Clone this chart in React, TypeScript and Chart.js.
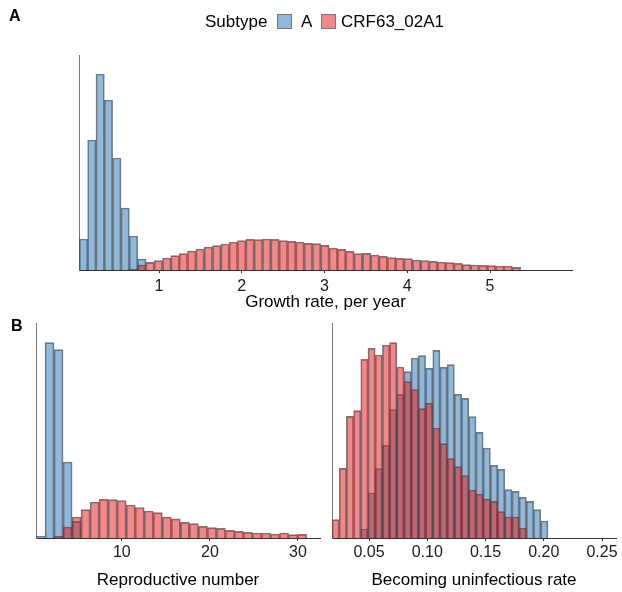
import React, { useEffect, useRef } from "react";
import { Chart, registerables } from "chart.js";

Chart.register(...registerables);

const FONT = "'Liberation Sans', Arial, Helvetica, sans-serif";
Chart.defaults.font.family = FONT;

// ---- legend / series ----
const SERIES_NAMES = ["A", "CRF63_02A1"];
const LEGEND_TITLE = "Subtype";
const BLUE_FILL = "rgba(55,126,184,0.55)";
const RED_FILL = "rgba(228,26,28,0.52)";
const BAR_BORDER = "rgba(70,70,70,0.72)";

// ---- Panel A: growth rate, per year (53 bins) ----
const A_BIN_START = 0.037;
const A_BIN_WIDTH = 0.1006;
const A_SUBTYPE_A = [31, 130, 196, 170, 112, 62, 34, 11];
const A_SUBTYPE_CRF = [
  null, null, null, null, null, null, 1,
  5, 7.7, 9.3, 12, 14.3, 16.3, 19, 21, 23, 24.3,
  26, 28, 29.3, 30.7, 30.3, 31, 30.7, 29.3, 28.7, 28,
  26.7, 26.3, 24.7, 22, 20.7, 18.7, 16.3, 16.7, 15, 13.7,
  12.3, 11.7, 11.3, 10, 9.3, 8.7, 8, 7.3, 6.7, 5.3,
  5, 4.7, 4.3, 4, 4, 2.7,
];
const A_TICKS = [1, 2, 3, 4, 5];
const A_TITLE = "Growth rate, per year";

// ---- Panel B left: reproductive number (30 bins) ----
const BL_BIN_START = 0.26;
const BL_BIN_WIDTH = 1.024;
const BL_SUBTYPE_A = [2, 195.3, 188.3, 76, 16.7];
const BL_SUBTYPE_CRF = [
  null, null, 1.7, 11, 21, 28.3, 36, 38.7, 38.3, 37.5,
  33, 30.5, 27, 25.3, 21, 19.2, 15.7, 14.3, 11.7, 10.3,
  9.7, 7.7, 6.7, 5.7, 5, 5, 4, 5, 3.3, 3.7,
];
const BL_TICKS = [10, 20, 30];
const BL_TITLE = "Reproductive number";

// ---- Panel B right: becoming uninfectious rate (30 bins) ----
const BR_BIN_START = 0.0182;
const BR_BIN_WIDTH = 0.00618;
const BR_SUBTYPE_A = [
  null, null, null, null, 9, 45, 69.3, 92.7, 128.3, 143.7,
  166.3, 180, 182.3, 169.7, 187.7, 170.7, 173.3, 143.7, 139.7, 121.3,
  105.7, 90, 72.7, 68.7, 48.3, 46.7, 40.7, 36.7, 28.3, 17,
];
const BR_SUBTYPE_CRF = [
  18.3, 69.7, 121.7, 127.3, 178.7, 189.7, 183, 193, 195.3, 171,
  156.3, 148.3, 129.3, 135, 110, 94.3, 79.3, 71.3, 62.3, 48,
  44, 39, 36.7, 26.3, 21, 21, 10,
];
const BR_TICKS = [0.05, 0.1, 0.15, 0.2, 0.25];
const BR_TITLE = "Becoming uninfectious rate";

type Spec = {
  start: number;
  width: number;
  blue: (number | null)[];
  red: (number | null)[];
  xMin: number;
  xMax: number;
  ticks: number[];
  fmt: (v: number) => string;
  title: string;
  pad: { left: number; right: number; top: number };
  axisH: number;
  tickPad: number;
  titlePB: number;
  yMax: number;
};

function toPoints(arr: (number | null)[], start: number, w: number) {
  const pts: { x: number; y: number }[] = [];
  arr.forEach((v, i) => {
    if (v != null) pts.push({ x: start + (i + 0.5) * w, y: v });
  });
  return pts;
}

function buildConfig(s: Spec): any {
  const common = {
    borderColor: BAR_BORDER,
    borderWidth: 1,
    grouped: false,
    barPercentage: 1,
    categoryPercentage: 1,
  };
  return {
    type: "bar",
    data: {
      datasets: [
        { label: SERIES_NAMES[1], data: toPoints(s.red, s.start, s.width), backgroundColor: RED_FILL, order: 0, ...common },
        { label: SERIES_NAMES[0], data: toPoints(s.blue, s.start, s.width), backgroundColor: BLUE_FILL, order: 1, ...common },
      ],
    },
    options: {
      responsive: false,
      animation: false,
      events: [],
      layout: { padding: { left: s.pad.left, right: s.pad.right, top: s.pad.top, bottom: 0 } },
      plugins: { legend: { display: false }, tooltip: { enabled: false } },
      scales: {
        x: {
          type: "linear",
          min: s.xMin,
          max: s.xMax,
          offset: false,
          afterBuildTicks: (sc: any) => {
            sc.ticks = s.ticks.map((v) => ({ value: v }));
          },
          afterFit: (sc: any) => {
            sc.height = s.axisH;
          },
          ticks: {
            callback: (v: any) => s.fmt(Number(v)),
            font: { size: 16 },
            color: "#1a1a1a",
            padding: s.tickPad,
            maxRotation: 0,
            autoSkip: false,
          },
          grid: {
            display: true,
            offset: false,
            drawOnChartArea: false,
            drawTicks: true,
            tickLength: 3,
            tickColor: "#333",
            color: "#333",
          },
          border: { display: true, color: "#333", width: 1 },
          title: {
            display: true,
            text: s.title,
            font: { size: 17 },
            color: "#000",
            padding: { top: 0, bottom: s.titlePB },
          },
        },
        y: {
          type: "linear",
          min: 0,
          max: s.yMax,
          ticks: { display: false },
          grid: { display: false, drawTicks: false },
          border: { display: true, color: "#777", width: 1 },
          afterFit: (sc: any) => {
            sc.width = 0;
          },
        },
      },
    },
  };
}

function ChartCanvas(props: { spec: Spec; left: number; top: number; width: number; height: number }) {
  const ref = useRef<HTMLCanvasElement>(null);
  useEffect(() => {
    const chart = new Chart(ref.current as HTMLCanvasElement, buildConfig(props.spec));
    return () => chart.destroy();
  }, []);
  return (
    <canvas
      ref={ref}
      width={props.width}
      height={props.height}
      style={{ position: "absolute", left: props.left, top: props.top, width: props.width, height: props.height }}
    />
  );
}

const specA: Spec = {
  start: A_BIN_START, width: A_BIN_WIDTH, blue: A_SUBTYPE_A, red: A_SUBTYPE_CRF,
  xMin: 0.033, xMax: 5.99, ticks: A_TICKS, fmt: (v) => String(v), title: A_TITLE,
  pad: { left: 79, right: 50, top: 55 }, axisH: 50, tickPad: 3.5, titlePB: 7.5, yMax: 215,
};
const specBL: Spec = {
  start: BL_BIN_START, width: BL_BIN_WIDTH, blue: BL_SUBTYPE_A, red: BL_SUBTYPE_CRF,
  xMin: 0.26, xMax: 32.5, ticks: BL_TICKS, fmt: (v) => String(v), title: BL_TITLE,
  pad: { left: 36, right: 2, top: 23 }, axisH: 54, tickPad: 1.5, titlePB: 1, yMax: 215,
};
const specBR: Spec = {
  start: BR_BIN_START, width: BR_BIN_WIDTH, blue: BR_SUBTYPE_A, red: BR_SUBTYPE_CRF,
  xMin: 0.0182, xMax: 0.262, ticks: BR_TICKS, fmt: (v) => v.toFixed(2), title: BR_TITLE,
  pad: { left: 10, right: 6, top: 23 }, axisH: 54, tickPad: 1.5, titlePB: 1, yMax: 215,
};

const textStyle: React.CSSProperties = {
  position: "absolute",
  fontFamily: FONT,
  fontSize: 17,
  lineHeight: "20px",
  color: "#000",
  whiteSpace: "nowrap",
};
const keyStyle: React.CSSProperties = {
  position: "absolute",
  top: 14,
  width: 13,
  height: 13,
  border: "1px solid #777",
};
const letterStyle: React.CSSProperties = {
  position: "absolute",
  fontFamily: FONT,
  fontSize: 16,
  fontWeight: "bold",
  lineHeight: "18px",
  color: "#000",
};

export default function App() {
  return (
    <div style={{ position: "fixed", left: 0, top: 0, width: 622, height: 592, background: "#fff", overflow: "hidden" }}>
      <ChartCanvas spec={specA} left={0} top={0} width={622} height={320} />
      <ChartCanvas spec={specBL} left={0} top={300} width={322} height={292} />
      <ChartCanvas spec={specBR} left={322} top={300} width={300} height={292} />
      <div style={{ ...letterStyle, left: 9, top: 7 }}>A</div>
      <div style={{ ...letterStyle, left: 11, top: 317 }}>B</div>
      <div style={{ ...textStyle, left: 205, top: 12 }}>{LEGEND_TITLE}</div>
      <div style={{ ...keyStyle, left: 277, background: BLUE_FILL }} />
      <div style={{ ...textStyle, left: 301, top: 12 }}>{SERIES_NAMES[0]}</div>
      <div style={{ ...keyStyle, left: 321, background: RED_FILL }} />
      <div style={{ ...textStyle, left: 341, top: 12 }}>{SERIES_NAMES[1]}</div>
    </div>
  );
}
